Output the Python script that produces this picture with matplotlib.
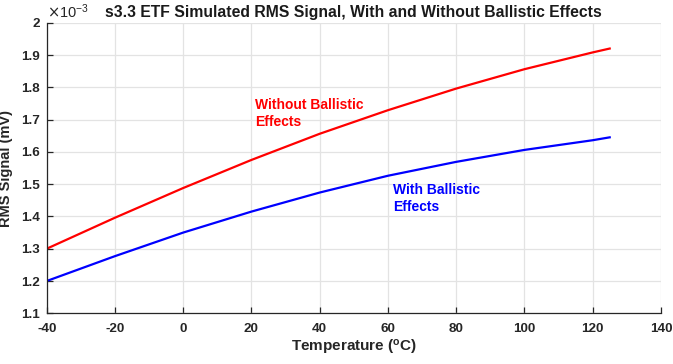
import matplotlib
matplotlib.use("Agg")
import matplotlib.pyplot as plt
from matplotlib.ticker import FuncFormatter
import numpy as np

plt.rcParams['font.family'] = ['Liberation Sans', 'DejaVu Sans']
plt.rcParams['axes.unicode_minus'] = False

temperature = [-40, -20, 0, 20, 40, 60, 80, 100, 120, 125]
without_ballistic = [1.300, 1.396, 1.488, 1.575, 1.656, 1.729, 1.796, 1.856, 1.908, 1.920]  # x1e-3 mV
with_ballistic = [1.200, 1.277, 1.350, 1.415, 1.474, 1.526, 1.569, 1.606, 1.636, 1.645]     # x1e-3 mV
scale = 1e-3

xticks = [-40, -20, 0, 20, 40, 60, 80, 100, 120, 140]
yticks = [1.1, 1.2, 1.3, 1.4, 1.5, 1.6, 1.7, 1.8, 1.9, 2.0]

fig = plt.figure(figsize=(6.73, 3.64), dpi=100)
ax = fig.add_axes([0.0694, 0.1393, 0.9126, 0.7983])

ax.plot(temperature, np.array(without_ballistic) * scale, color='#ff0000', lw=1.6)
ax.plot(temperature, np.array(with_ballistic) * scale, color='#0000ff', lw=1.6)

ax.set_xlim(-40, 140)
ax.set_ylim(1.1 * scale, 2.0 * scale)
ax.set_xticks(xticks)
ax.set_yticks([v * scale for v in yticks])
ax.yaxis.set_major_formatter(FuncFormatter(lambda v, p: f"{v / scale:g}"))

ax.grid(True, color='#e3e3e3', lw=0.9)
ax.set_axisbelow(True)
for s in ['top', 'right']:
    ax.spines[s].set_visible(False)
for s in ['left', 'bottom']:
    ax.spines[s].set_color('#262626')
    ax.spines[s].set_linewidth(0.9)
ax.tick_params(direction='in', length=4, width=0.9, color='#262626',
               labelsize=9.7, labelcolor='#262626', pad=5)
ax.tick_params(axis='x', pad=7)
for lab in ax.get_xticklabels() + ax.get_yticklabels():
    lab.set_fontweight('bold')

ax.set_title('s3.3 ETF Simulated RMS Signal, With and Without Ballistic Effects',
             fontsize=11.3, fontweight='bold', color='#1a1a1a', pad=4)
ax.set_xlabel('Temperature ($\\mathregular{^o}$C)', fontsize=11, fontweight='bold', color='#262626', labelpad=2)
ax.set_ylabel('RMS Signal (mV)', fontsize=10.5, fontweight='bold', color='#262626', labelpad=6)

ax.text(0.0, 1.005, r'$\times\mathregular{10^{-3}}$', transform=ax.transAxes, fontsize=10.5,
        color='#262626', ha='left', va='bottom')

ax.text(21, 1.768 * scale, 'Without Ballistic\nEffects', color='#ff0000', fontsize=10,
        fontweight='bold', ha='left', va='top', linespacing=1.3)
ax.text(61.5, 1.505 * scale, 'With Ballistic\nEffects', color='#0000ff', fontsize=10,
        fontweight='bold', ha='left', va='top', linespacing=1.3)

fig.savefig('out.png', dpi=100)
